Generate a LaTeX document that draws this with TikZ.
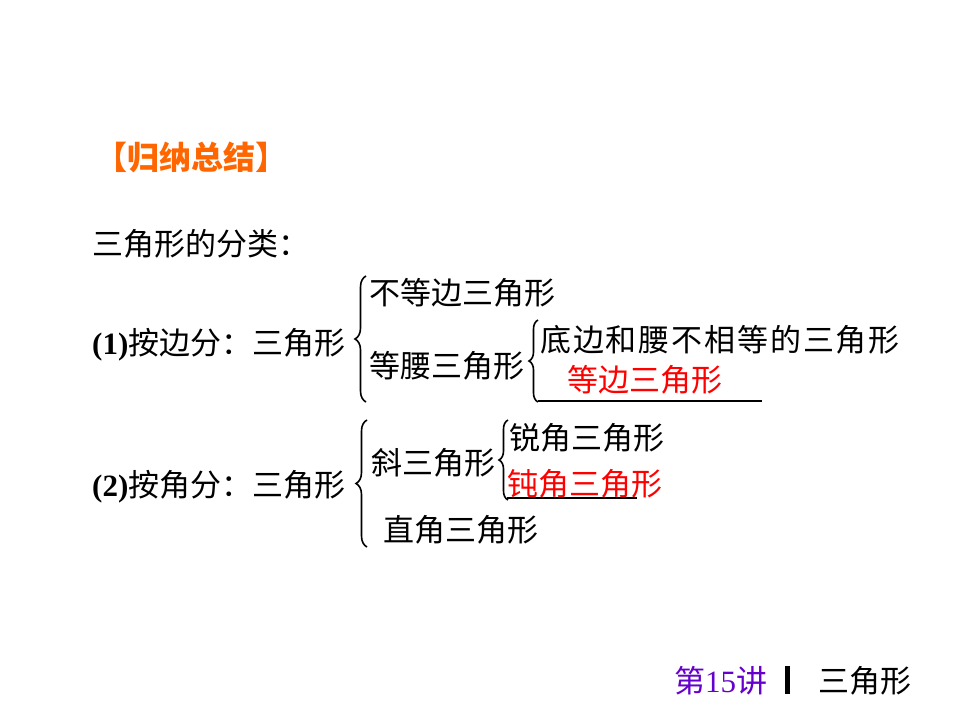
\documentclass[tikz,border=0pt]{standalone}
\usepackage{fontspec}
\setmainfont{Noto Sans CJK SC}
\newfontfamily\latfont{Liberation Serif}
\usetikzlibrary{decorations.pathreplacing}
\definecolor{sumorange}{RGB}{255,102,0}
\definecolor{keyred}{RGB}{255,0,0}
\definecolor{lecpurple}{RGB}{102,0,204}

\begin{document}
\begin{tikzpicture}[x=1pt, y=-1pt,
  every node/.style={font=\fontsize{31}{31}\selectfont, inner sep=0pt, anchor=west},
  answer/.style={text=keyred},
  brc/.style={decorate, decoration={brace, amplitude=#1}, line width=1.6pt},
  brc/.default=10pt,
  blank/.style={line width=1.8pt},
]
  \useasboundingbox[fill=white] (0,0) rectangle (960,720);

  % heading and lead-in
  \node[text=sumorange, font=\fontsize{32}{32}\selectfont\bfseries] (head) at (95,157) {【归纳总结】};
  \node (cls) at (92,244) {三角形的分类：};

  % (1) by sides
  \node (side) at (92,345) {{\latfont\bfseries (1)}按边分：三角形};
  \coordinate (b1s) at (366,402);
  \coordinate (b1n) at (366,276);
  \draw[brc=11pt] (b1s) -- (b1n);
  \node (scal) at (369,293) {不等边三角形};
  \node (isos) at (369,366) {等腰三角形};
  \coordinate (b2s) at (538,402);
  \coordinate (b2n) at (538,320);
  \draw[brc=9pt] (b2s) -- (b2n);
  \node (isosA) at (540,340) {\addfontfeature{LetterSpace=6}底边和腰不相等的三角形};
  \node[answer] (equi) at (567,380) {等边三角形};
  \coordinate (u1w) at (538,401);
  \coordinate (u1e) at (762,401);
  \draw[blank] (u1w) -- (u1e);

  % (2) by angles
  \node (angle) at (92,487) {{\latfont\bfseries (2)}按角分：三角形};
  \coordinate (b3s) at (367,547);
  \coordinate (b3n) at (367,420);
  \draw[brc=11pt] (b3s) -- (b3n);
  \node (obl) at (371,463) {斜三角形};
  \coordinate (b4s) at (508,500);
  \coordinate (b4n) at (508,420);
  \draw[brc=9pt] (b4s) -- (b4n);
  \node (acute) at (509,438) {锐角三角形};
  \node[answer] (obtuse) at (507,484) {钝角三角形};
  \coordinate (u2w) at (507,498);
  \coordinate (u2e) at (637,498);
  \draw[blank] (u2w) -- (u2e);
  \node (right) at (383,530) {直角三角形};

  % footer
  \node[text=lecpurple] (lec) at (674,681) {第{\latfont 15}讲};
  \fill (785,666) rectangle (790,694);
  \node (topic) at (818,681) {三角形};
\end{tikzpicture}
\end{document}
